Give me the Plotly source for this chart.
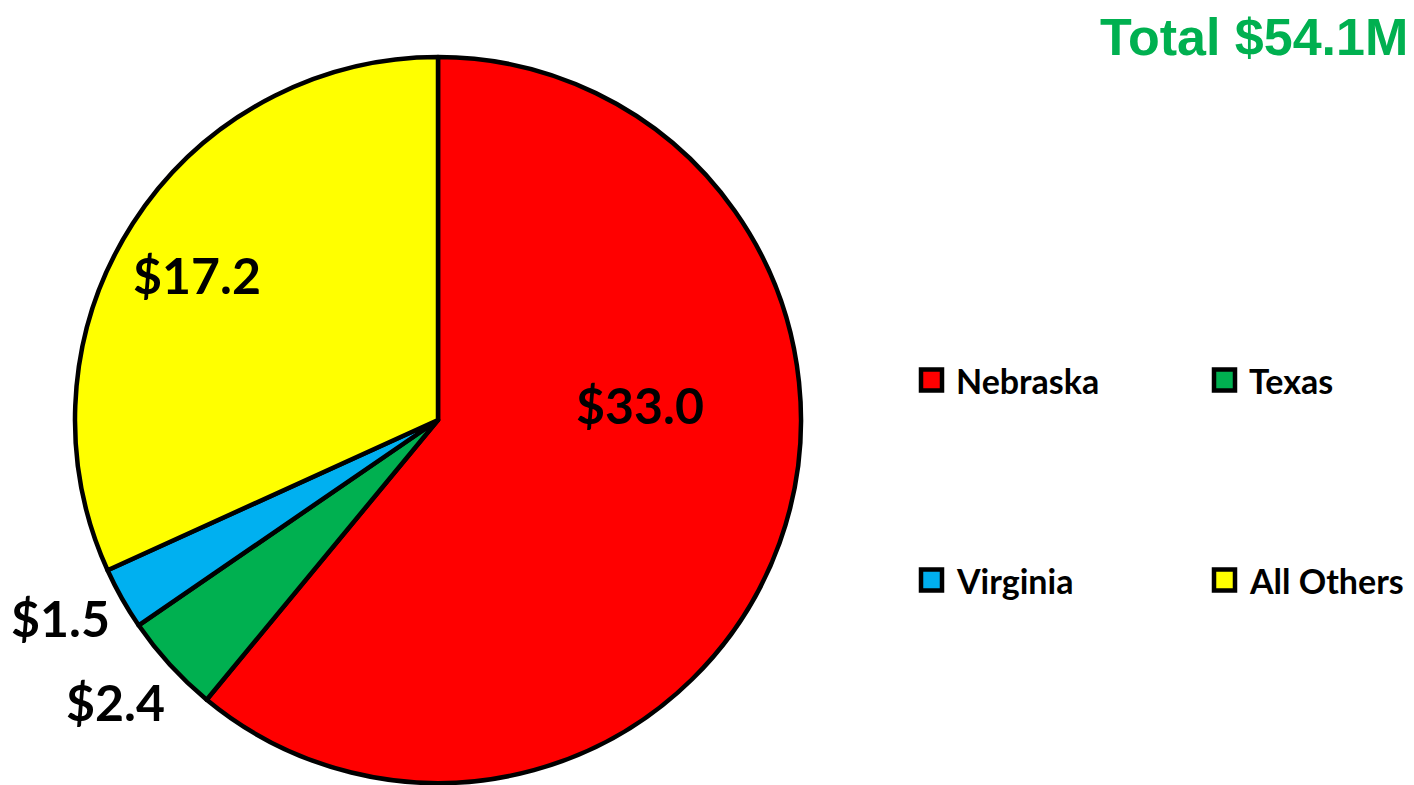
import plotly.graph_objects as go

categories = ["Nebraska", "Texas", "Virginia", "All Others"]
values = [33.0, 2.4, 1.5, 17.2]
colors = ["#FF0000", "#00B050", "#00B0F0", "#FFFF00"]
total_label = "Total $54.1M"

W, H = 1414, 785
CX, CY, R = 438, 420, 363  # pie centre / radius in px

# label centres as pixel offsets from the pie centre (layout, not data)
label_offsets = [(202, -15), (-323, 282), (-378, 198), (-241, -145)]

fig = go.Figure()
fig.add_trace(go.Pie(
    labels=categories,
    values=values,
    sort=False,
    direction="clockwise",
    rotation=0,
    marker=dict(colors=colors, line=dict(color="black", width=4.5)),
    textinfo="none",
    showlegend=False,
    hoverinfo="label+value",
    domain=dict(x=[(CX - R) / W, (CX + R) / W], y=[(H - CY - R) / H, (H - CY + R) / H]),
    automargin=False,
))

for v, (dx, dy) in zip(values, label_offsets):
    fig.add_annotation(
        x=(CX + dx) / W, y=1 - (CY + dy) / H, xref="paper", yref="paper",
        text=f"${v:.1f}", showarrow=False, xanchor="center", yanchor="middle",
        font=dict(family="Lato", size=50, color="black", weight="bold"),
    )

# Manual 2x2 legend
leg_cols = [919, 1212]
leg_rows = [380, 580]
sq = 25
for i, name in enumerate(categories):
    cx = leg_cols[i % 2]
    cy = leg_rows[i // 2]
    fig.add_shape(
        type="rect", xref="paper", yref="paper",
        x0=(cx + 2) / W, x1=(cx + sq - 2) / W,
        y0=1 - (cy + sq / 2 - 2) / H, y1=1 - (cy - sq / 2 + 2) / H,
        fillcolor=colors[i], line=dict(color="black", width=4.5),
    )
    fig.add_annotation(
        x=(cx + 35) / W, y=1 - cy / H, xref="paper", yref="paper",
        text=name, showarrow=False, xanchor="left", yanchor="middle",
        font=dict(family="Lato", size=34, color="black", weight="bold"),
    )

fig.add_annotation(
    x=1410 / W, y=1 - 6 / H, xref="paper", yref="paper",
    text=total_label, showarrow=False, xanchor="right", yanchor="top",
    font=dict(family="Liberation Sans", size=52, color="#00B050", weight="bold"),
)

fig.update_layout(
    width=W, height=H,
    margin=dict(l=0, r=0, t=0, b=0),
    paper_bgcolor="white", plot_bgcolor="white",
)

fig.write_html("out.html", config={"displayModeBar": False},
               post_script="document.body.style.margin='0';")
